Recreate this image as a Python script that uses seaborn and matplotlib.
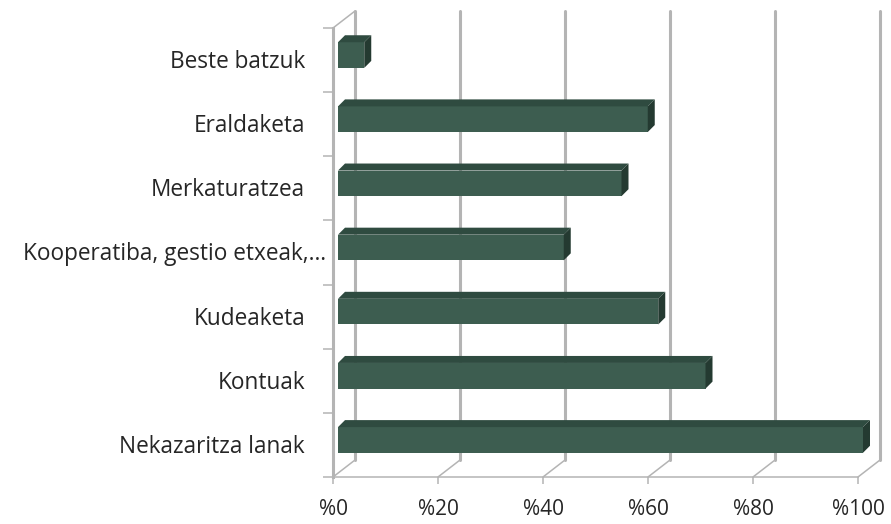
import pandas as pd
import matplotlib.pyplot as plt
import seaborn as sns
from matplotlib.patches import Polygon
from matplotlib.transforms import ScaledTranslation, blended_transform_factory

# Chart data
categories = ["Beste batzuk", "Eraldaketa", "Merkaturatzea",
              "Kooperatiba, gestio etxeak,…", "Kudeaketa", "Kontuak",
              "Nekazaritza lanak"]
values = [5, 59, 54, 43, 61, 70, 100]
x_ticks = [0, 20, 40, 60, 80, 100]
x_tick_labels = ["%0", "%20", "%40", "%60", "%80", "%100"]

sns.set_style("white")
plt.rcParams["font.family"] = ["Open Sans", "DejaVu Sans"]

front = "#3d5d50"
top = "#2f4b40"
side = "#243a31"
grid = "#b4b4b4"

df = pd.DataFrame({"kategoria": categories, "balioa": values})

fig = plt.figure(figsize=(8.91, 5.24), dpi=100)
# axes = front plane of the 3D box
ax = fig.add_axes([333 / 891, 1 - 477 / 524, 525 / 891, 449 / 524])

sns.barplot(data=df, x="balioa", y="kategoria", orient="h", color=front,
            saturation=1, width=0.4, ax=ax, zorder=3)
ax.set_xlim(0, 100)
ax.set_ylim(6.5, -0.5)
ax.set_xlabel("")
ax.set_ylabel("")

px_x = 525 / 100          # pixels per x unit
px_y = 449 / 7            # pixels per category
dpi = fig.dpi

# back wall gridlines and floor/wall edges
wall_dx, wall_dy = 22, 17
wall = ax.transData + ScaledTranslation(wall_dx / dpi, wall_dy / dpi, fig.dpi_scale_trans)
for v in x_ticks:
    ax.plot([v, v], [6.5, -0.5], transform=wall, color=grid, lw=2.2,
            clip_on=False, zorder=1)
    ax.plot([v, v + wall_dx / px_x], [6.5, 6.5 - wall_dy / px_y],
            color=grid, lw=1.1, clip_on=False, zorder=1)
ax.plot([0, wall_dx / px_x], [-0.5, -0.5 - wall_dy / px_y],
        color=grid, lw=1.1, clip_on=False, zorder=1)

# 3D faces of the bars
bar_off = ax.transData + ScaledTranslation(5 / dpi, 5 / dpi, fig.dpi_scale_trans)
ddx, ddy = 7 / px_x, 7 / px_y
for p in ax.patches:
    x0, y0 = p.get_x(), p.get_y()
    x1, y1 = x0 + p.get_width(), y0 + p.get_height()
    p.set_transform(bar_off)
    p.set_edgecolor("none")
    p.set_clip_on(False)
    ax.add_patch(Polygon([(x0, y0), (x1, y0), (x1 + ddx, y0 - ddy), (x0 + ddx, y0 - ddy)],
                         closed=True, facecolor=top, edgecolor="none",
                         transform=bar_off, zorder=3, clip_on=False))
    ax.add_patch(Polygon([(x1, y0), (x1 + ddx, y0 - ddy), (x1 + ddx, y1 - ddy), (x1, y1)],
                         closed=True, facecolor=side, edgecolor="none",
                         transform=bar_off, zorder=3, clip_on=False))

# spines and ticks
for s in ["top", "right"]:
    ax.spines[s].set_visible(False)
ax.spines["left"].set_color(grid)
ax.spines["left"].set_linewidth(2.2)
ax.spines["bottom"].set_color(grid)
ax.spines["bottom"].set_linewidth(1.1)

ax.set_xticks(x_ticks)
ax.set_xticklabels(x_tick_labels, fontsize=15)
ax.set_yticks([i - 0.5 for i in range(len(categories) + 1)])
ax.set_yticklabels([])
ax.tick_params(axis="x", direction="out", length=5, width=1.1, color=grid,
               pad=11, bottom=True)
ax.tick_params(axis="y", direction="out", length=7, width=1.1, color=grid, left=True)

# category labels
lab_tr = blended_transform_factory(ax.transAxes, ax.transData)
for i, name in enumerate(categories):
    xr = (326 - 333) / 525 if len(name) > 20 else (305 - 333) / 525
    ax.text(xr, i + 0.03, name, transform=lab_tr, ha="right", va="center",
            fontsize=16.3)

plt.savefig("out.png", dpi=100)
